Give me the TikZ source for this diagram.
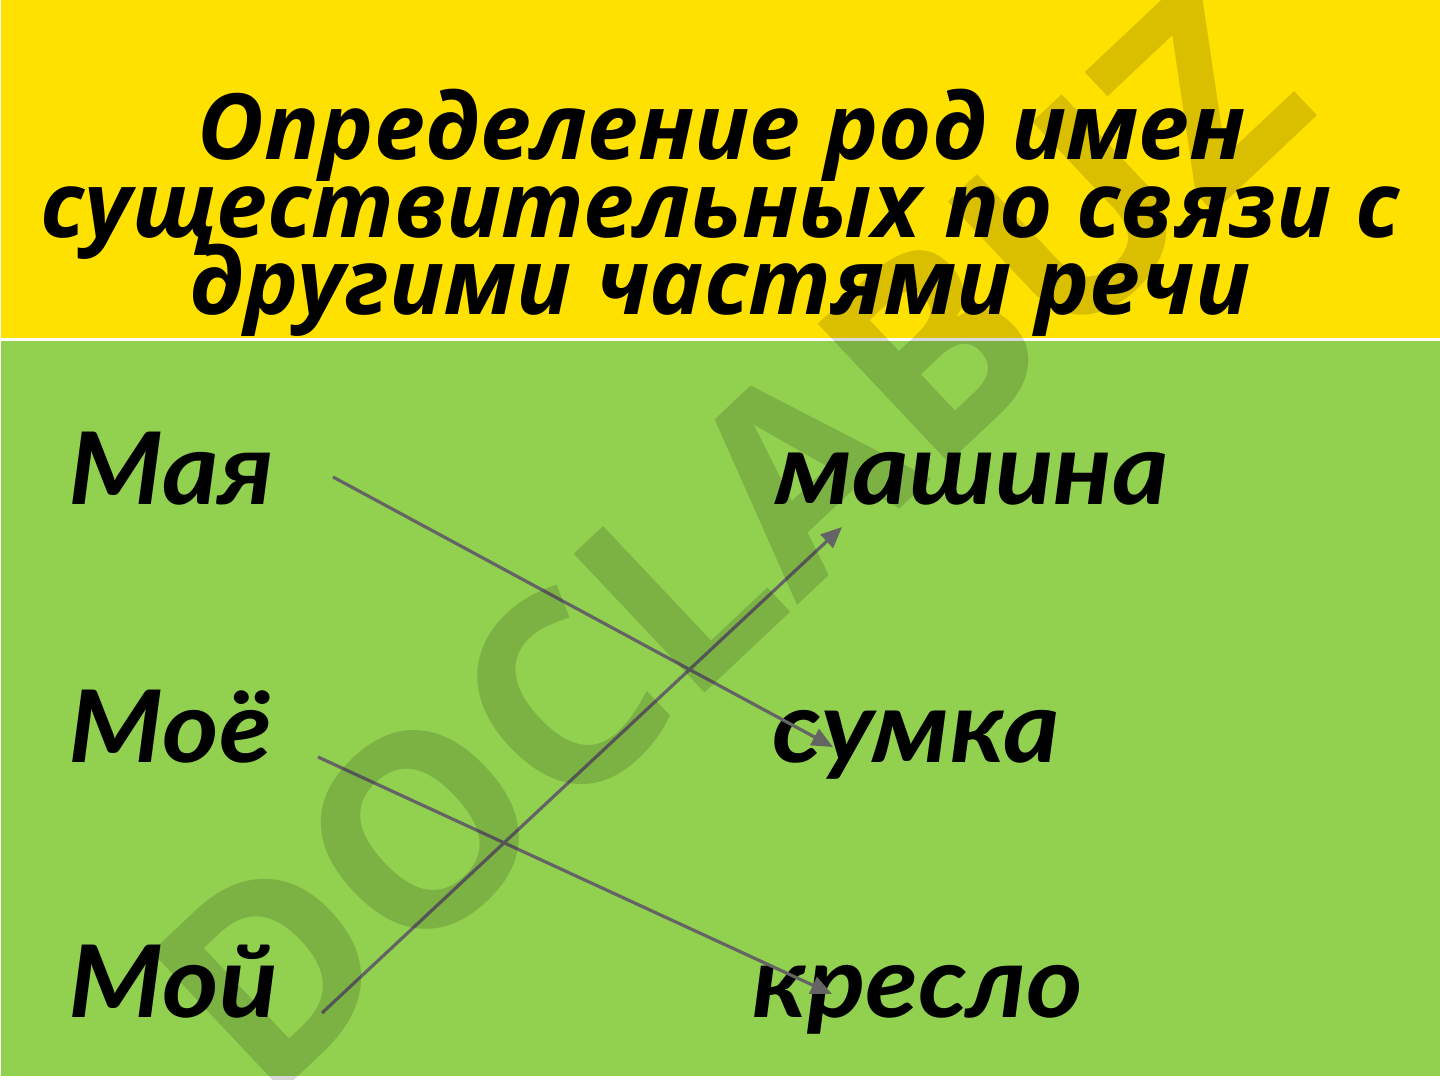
\documentclass[tikz,border=0pt]{standalone}
\usepackage{fontspec}
\usetikzlibrary{arrows.meta}
\newfontfamily\titlefont{Open Sans}
\newfontfamily\wordfont{Lato}[FakeStretch=1.08]
\newfontfamily\markfont{Open Sans}
\definecolor{bandyellow}{RGB}{255,225,0}
\definecolor{bandgreen}{RGB}{146,208,80}
\definecolor{arrowgray}{RGB}{100,100,100}
\tikzset{
    title/.style={anchor=base, inner sep=0pt,
        font=\titlefont\bfseries\itshape\fontsize{26}{26}\selectfont},
    word/.style={anchor=base west, inner sep=0pt,
        font=\wordfont\bfseries\itshape\fontsize{28.5}{28.5}\selectfont},
    link/.style={-{Triangle[length=2.1mm, width=1.8mm]}, line width=0.9pt, draw=arrowgray},
    watermark/.style={text=black, text opacity=0.15, rotate=43.3, inner sep=0pt,
        font=\markfont\bfseries\fontsize{76}{76}\selectfont}
}
\begin{document}
\begin{tikzpicture}[x=0.01cm, y=-0.01cm]
    \useasboundingbox (0, 0) rectangle (1440, 1080);

    % Bands.
    \fill [white] (0, 0) rectangle (1440, 1080);
    \fill [bandyellow] (1, 0) rectangle (1440, 338);
    \fill [bandgreen] (1, 341) rectangle (1440, 1076);

    % Title.
    \node (title 1) [title] at (722, 160) {Определение род имен};
    \node (title 2) [title] at (720, 238) {существительных по связи с};
    \node (title 3) [title] at (720, 315) {другими частями речи};

    % Words.
    \node (maya) [word] at (68, 505) {Мая};
    \node (moyo) [word] at (68, 762) {Моё};
    \node (moy) [word] at (68, 1017) {Мой};

    \node (mashina) [word] at (775, 505) {машина};
    \node (sumka) [word] at (772, 762) {сумка};
    \node (kreslo) [word] at (752, 1017) {кресло};

    % Arrow ends.
    \coordinate (maya tail) at (333, 477);
    \coordinate (moyo tail) at (318, 757);
    \coordinate (moy tail) at (322, 1013);
    \coordinate (mashina tip) at (842, 527);
    \coordinate (sumka tip) at (833, 747);
    \coordinate (kreslo tip) at (832, 994);

    % Links.
    \draw [link] (maya tail) -- (sumka tip);
    \draw [link] (moyo tail) -- (kreslo tip);
    \draw [link] (moy tail) -- (mashina tip);

    % Watermark.
    \node (mark) [watermark] at (728, 540) {DOCLABUZ};
\end{tikzpicture}
\end{document}
